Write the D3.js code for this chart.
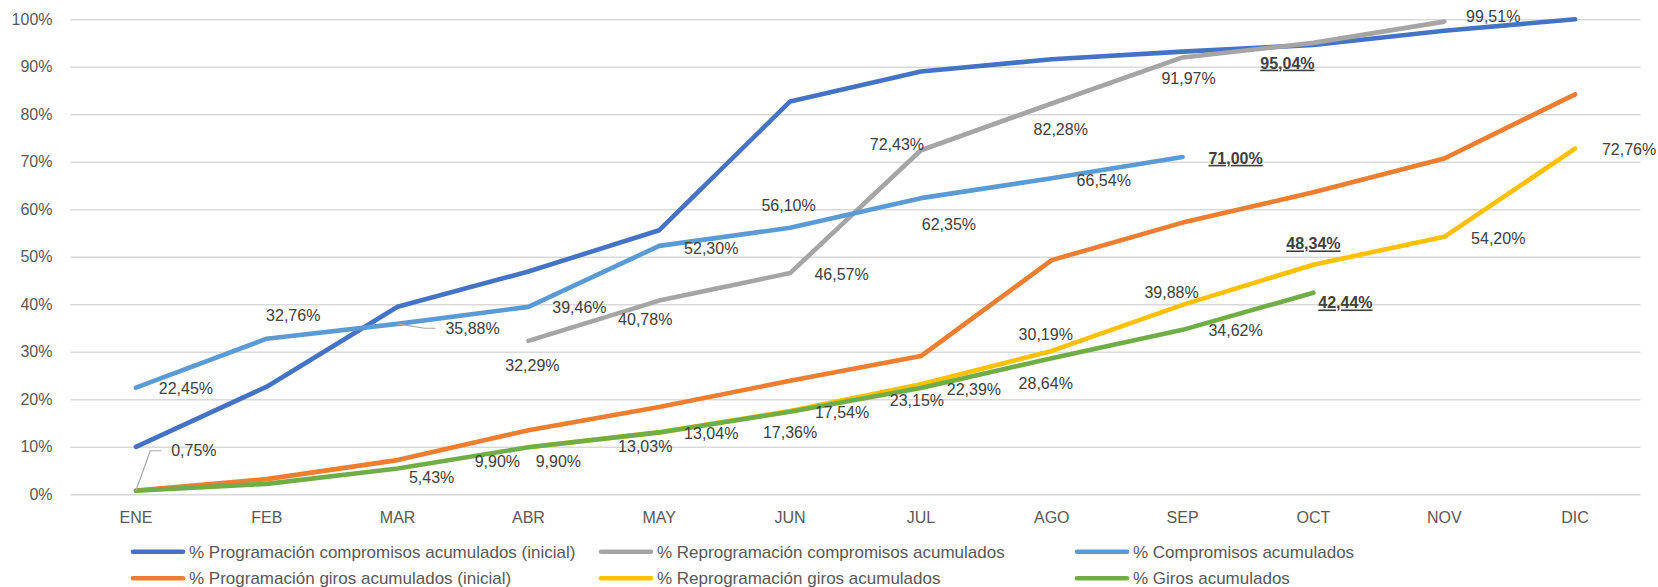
<!DOCTYPE html>
<html>
<head>
<meta charset="utf-8">
<script src="https://cdn.jsdelivr.net/npm/d3@7/dist/d3.min.js"></script>
<style>
  html, body { margin: 0; padding: 0; background: #fff; }
  svg { display: block; font-family: "Liberation Sans", Arial, sans-serif; }
</style>
</head>
<body>
<svg id="chart" width="1658" height="587"></svg>
<script>
// ---------- DATA ----------
const months = ["ENE","FEB","MAR","ABR","MAY","JUN","JUL","AGO","SEP","OCT","NOV","DIC"];
const yTicks = [0,10,20,30,40,50,60,70,80,90,100];

const progCompromisos   = [10.0, 22.65, 39.5, 46.9, 55.6, 82.7, 89.0, 91.6, 93.2, 94.6, 97.6, 100.0];
const reprogCompromisos = [null, null, null, 32.29, 40.78, 46.57, 72.43, 82.28, 91.97, 95.04, 99.51, null];
const compromisos       = [22.45, 32.76, 35.88, 39.46, 52.30, 56.10, 62.35, 66.54, 71.00, null, null, null];
const progGiros         = [0.8, 3.2, 7.2, 13.5, 18.4, 23.9, 29.1, 49.3, 57.2, 63.6, 70.7, 84.2];
const reprogGiros       = [null, null, null, 9.90, 13.04, 17.54, 23.15, 30.19, 39.88, 48.34, 54.20, 72.76];
const giros             = [0.75, 2.2, 5.43, 9.90, 13.03, 17.36, 22.39, 28.64, 34.62, 42.44, null, null];

const seriesNames = [
  "% Programación compromisos acumulados (inicial)",
  "% Reprogramación compromisos acumulados",
  "% Compromisos acumulados",
  "% Programación giros acumulados (inicial)",
  "% Reprogramación giros acumulados",
  "% Giros acumulados"
];

// ---------- STYLE (label placement, colours) ----------
const colors = ["#4472C4", "#A5A5A5", "#5B9BD5", "#ED7D31", "#FFC000", "#70AD47"];
// label offsets [dx, dy] of label centre from the point; null = no label
const labelOffsets = [
  null,
  [null,null,null,[4,24],[-14,19],[51.5,1],[-24,-6],[9,26],[6,21],[-26,20],[49,-5.5],null],
  [[50,0.5],[26.5,-23.7],[75,4.4],[51,0],[52,2],[-1.5,-23],[28,26],[52,2],[53,1],null,null,null],
  null,
  [null,null,null,[30,14],[52,1],[52,1],[-4,16],[-6,-17],[-11,-13],[0,-21],[54,1],[54,1]],
  [[58,-40],null,[34,9],[-31,14],[-14,14],[0,20.5],[53,1],[-6,25],[53,0],[32,10],null,null]
];
const boldLabels = [[], [9], [8], [], [9], [9]];          // indices of bold/underlined labels
const leaderLabels = [[], [], [2], [], [], [0]];          // labels with a leader line

// ---------- CHART ----------
const svg = d3.select("#chart");
const x = d3.scaleBand().domain(months).range([70.5, 1640.5]).padding(0);
const y = d3.scaleLinear().domain([0, 100]).range([494.3, 19.3]);
const cx = m => x(m) + x.bandwidth() / 2;

// gridlines + y labels
const yAxis = d3.axisLeft(y).tickValues(yTicks).tickSize(-(1640.5 - 70.5)).tickPadding(18)
  .tickFormat(d => d + "%");
const gy = svg.append("g").attr("transform", "translate(70.5,0)").call(yAxis);
gy.select(".domain").remove();
gy.selectAll(".tick line").attr("stroke", "#d9d9d9").attr("stroke-width", 1.5);
gy.selectAll(".tick text").attr("fill", "#595959").attr("font-size", 16)
  .attr("font-family", "Liberation Sans, Arial, sans-serif");

// x labels
const xAxis = d3.axisBottom(x).tickSize(0).tickPadding(17);
const gx = svg.append("g").attr("transform", "translate(0,494.3)").call(xAxis);
gx.select(".domain").remove();
gx.selectAll(".tick text").attr("fill", "#595959").attr("font-size", 16)
  .attr("font-family", "Liberation Sans, Arial, sans-serif");

const allSeries = [progCompromisos, reprogCompromisos, compromisos, progGiros, reprogGiros, giros];
const line = d3.line().defined(d => d.v != null).x(d => cx(d.m)).y(d => y(d.v));

allSeries.forEach((vals, si) => {
  const pts = vals.map((v, i) => ({ m: months[i], v }));
  svg.append("path").datum(pts)
    .attr("d", line)
    .attr("fill", "none")
    .attr("stroke", colors[si])
    .attr("stroke-width", 4.6)
    .attr("stroke-linecap", "round")
    .attr("stroke-linejoin", "round");
});

const locale = d3.formatLocale({ decimal: ",", thousands: ".", grouping: [3], currency: ["", "€"] });
const fmt = v => locale.format(".2f")(v) + "%";

const labelG = svg.append("g");
allSeries.forEach((vals, si) => {
  const offs = labelOffsets[si];
  if (!offs) return;
  vals.forEach((v, i) => {
    if (v == null || !offs[i]) return;
    const px = cx(months[i]), py = y(v);
    const lx = px + offs[i][0], ly = py + offs[i][1];
    const bold = boldLabels[si].includes(i);
    const t = labelG.append("text")
      .attr("x", lx).attr("y", ly).attr("dy", "0.36em")
      .attr("text-anchor", "middle")
      .attr("font-size", 16)
      .attr("fill", "#404040")
      .attr("font-weight", bold ? "bold" : "normal")
      .attr("text-decoration", bold ? "underline" : "none")
      .text(fmt(v));
    if (leaderLabels[si].includes(i)) {
      const w = t.node().getComputedTextLength();
      const left = lx - w / 2;
      labelG.append("polyline")
        .attr("points", [[px, py], [left - 21, ly], [left - 10, ly]].map(p => p.join(",")).join(" "))
        .attr("fill", "none").attr("stroke", "#a6a6a6").attr("stroke-width", 1.2);
    }
  });
});

// legend
const legendCols = [130, 598, 1074];
const legendRows = [551.7, 578.3];
seriesNames.forEach((name, si) => {
  const col = si % 3, row = Math.floor(si / 3);
  const lx = legendCols[col], ly = legendRows[row];
  const g = svg.append("g");
  g.append("line").attr("x1", lx + 3).attr("x2", lx + 53).attr("y1", ly).attr("y2", ly)
    .attr("stroke", colors[si]).attr("stroke-width", 4.6).attr("stroke-linecap", "round");
  g.append("text").attr("x", lx + 59).attr("y", ly).attr("dy", "0.36em")
    .attr("font-size", 17).attr("fill", "#595959").text(name);
});
</script>
</body>
</html>
